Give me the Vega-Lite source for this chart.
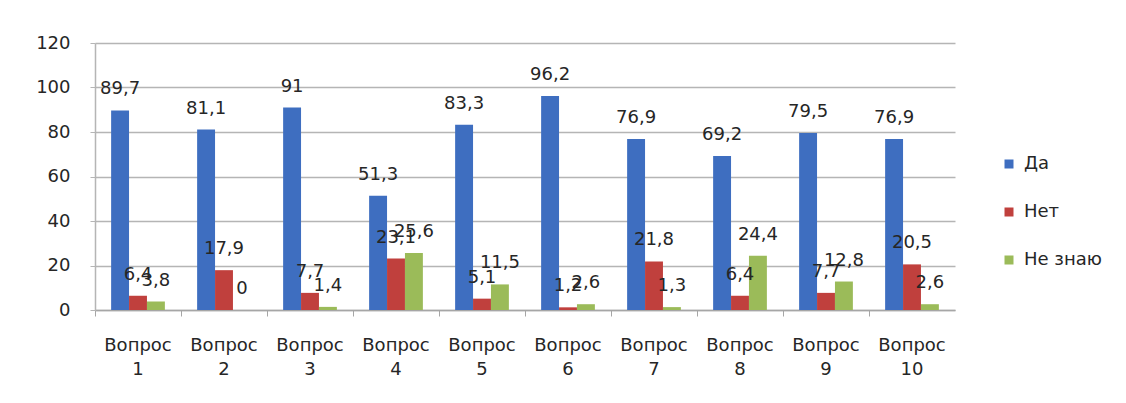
{
  "$schema": "https://vega.github.io/schema/vega-lite/v6.json",
  "autosize": {"type": "none"},
  "width": 860,
  "height": 267,
  "padding": {"left": 95, "top": 43, "right": 171, "bottom": 93},
  "background": "white",
  "config": {
    "locale": {"number": {"decimal": ",", "thousands": " ", "grouping": [3], "currency": ["", ""]}},
    "font": "DejaVu Sans",
    "view": {"stroke": null}
  },
  "data": {
    "values": [
      {"q": "Вопрос 1", "s": "Да", "v": 89.7}, {"q": "Вопрос 1", "s": "Нет", "v": 6.4}, {"q": "Вопрос 1", "s": "Не знаю", "v": 3.8},
      {"q": "Вопрос 2", "s": "Да", "v": 81.1}, {"q": "Вопрос 2", "s": "Нет", "v": 17.9}, {"q": "Вопрос 2", "s": "Не знаю", "v": 0},
      {"q": "Вопрос 3", "s": "Да", "v": 91}, {"q": "Вопрос 3", "s": "Нет", "v": 7.7}, {"q": "Вопрос 3", "s": "Не знаю", "v": 1.4},
      {"q": "Вопрос 4", "s": "Да", "v": 51.3}, {"q": "Вопрос 4", "s": "Нет", "v": 23.1}, {"q": "Вопрос 4", "s": "Не знаю", "v": 25.6},
      {"q": "Вопрос 5", "s": "Да", "v": 83.3}, {"q": "Вопрос 5", "s": "Нет", "v": 5.1}, {"q": "Вопрос 5", "s": "Не знаю", "v": 11.5},
      {"q": "Вопрос 6", "s": "Да", "v": 96.2}, {"q": "Вопрос 6", "s": "Нет", "v": 1.2}, {"q": "Вопрос 6", "s": "Не знаю", "v": 2.6},
      {"q": "Вопрос 7", "s": "Да", "v": 76.9}, {"q": "Вопрос 7", "s": "Нет", "v": 21.8}, {"q": "Вопрос 7", "s": "Не знаю", "v": 1.3},
      {"q": "Вопрос 8", "s": "Да", "v": 69.2}, {"q": "Вопрос 8", "s": "Нет", "v": 6.4}, {"q": "Вопрос 8", "s": "Не знаю", "v": 24.4},
      {"q": "Вопрос 9", "s": "Да", "v": 79.5}, {"q": "Вопрос 9", "s": "Нет", "v": 7.7}, {"q": "Вопрос 9", "s": "Не знаю", "v": 12.8},
      {"q": "Вопрос 10", "s": "Да", "v": 76.9}, {"q": "Вопрос 10", "s": "Нет", "v": 20.5}, {"q": "Вопрос 10", "s": "Не знаю", "v": 2.6}
    ]
  },
  "encoding": {
    "x": {
      "field": "q", "type": "nominal", "sort": null,
      "scale": {"paddingInner": 0, "paddingOuter": 0},
      "axis": {
        "title": null, "labelAngle": 0, "bandPosition": 0,
        "labelExpr": "split(datum.label, ' ')",
        "labelFontSize": 18, "labelColor": "#262626", "labelLineHeight": 24,
        "labelBaseline": "top", "labelPadding": 20, "tickSize": 6,
        "tickColor": "#a6a6a6", "domainColor": "#a6a6a6", "domainWidth": 1.5,
        "labelAlign": "center"
      }
    },
    "xOffset": {"field": "s", "type": "nominal", "sort": ["Да", "Нет", "Не знаю"], "scale": {"paddingOuter": 0.9, "paddingInner": 0}},
    "y": {
      "field": "v", "type": "quantitative",
      "scale": {"domain": [0, 120], "nice": false},
      "axis": {
        "title": null, "values": [0, 20, 40, 60, 80, 100, 120],
        "labelFontSize": 18, "labelColor": "#262626", "labelPadding": 20, "tickSize": 5,
        "tickColor": "#b5b5b5", "gridColor": "#b5b5b5", "gridWidth": 1.5,
        "domainColor": "#b5b5b5", "domainWidth": 1.5
      }
    }
  },
  "layer": [
    {
      "mark": {"type": "bar"},
      "encoding": {
        "color": {
          "field": "s", "type": "nominal",
          "scale": {"domain": ["Да", "Нет", "Не знаю"], "range": ["#3E6EC0", "#C0403D", "#9BBB59"]},
          "legend": {
            "title": null, "orient": "none", "legendX": 905, "legendY": 112,
            "symbolType": "square", "symbolSize": 81, "labelFontSize": 18, "labelColor": "#262626",
            "rowPadding": 30, "labelOffset": 6
          }
        }
      }
    },
    {
      "mark": {"type": "text", "baseline": "alphabetic", "dy": -16, "fontSize": 18, "color": "#262626"},
      "encoding": {"text": {"field": "v", "type": "quantitative", "format": ".1~f"}}
    }
  ]
}
